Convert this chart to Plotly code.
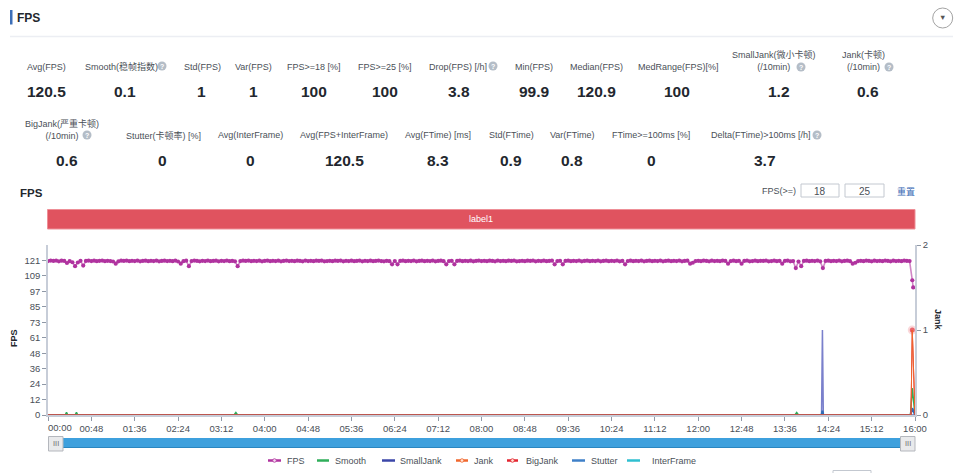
import plotly.graph_objects as go

# ---------- data ----------
TIME_TICK_MINUTES = [0, 48, 96, 144, 192, 240, 288, 336, 384, 432, 480, 528, 576, 624, 672, 720, 768, 816, 864, 912, 960]
TIME_TICK_LABELS = ["00:00", "00:48", "01:36", "02:24", "03:12", "04:00", "04:48", "05:36", "06:24", "07:12", "08:00",
                    "08:48", "09:36", "10:24", "11:12", "12:00", "12:48", "13:36", "14:24", "15:12", "16:00"]
FPS_TICK_VALUES = [0, 12.1, 24.2, 36.3, 48.4, 60.5, 72.6, 84.7, 96.8, 108.9, 121]
FPS_TICK_LABELS = ["0", "12", "24", "36", "48", "61", "73", "85", "97", "109", "121"]
JANK_TICK_VALUES = [0, 1, 2]

FPS_MINUTES = list(range(0, 958, 3)) + [958]
FPS_VALUES = [
    120.5, 120.9, 120.6, 120.9, 120.3, 120.8, 120.6, 119.0, 120.4, 119.6, 116.5, 119.4, 120.7, 117.0, 120.6, 120.9, 120.5, 120.8, 120.4, 120.7,
    120.9, 120.4, 120.7, 120.5, 120.2, 118.5, 120.3, 120.8, 120.6, 120.9, 120.4, 120.7, 120.5, 120.9, 120.3, 120.6, 120.8, 120.4, 120.7, 120.5,
    120.9, 120.3, 120.6, 120.8, 120.5, 120.7, 120.4, 120.9, 120.2, 118.5, 120.4, 120.8, 116.5, 120.5, 120.9, 120.6, 120.3, 120.7, 120.5, 120.9,
    120.4, 120.6, 120.8, 120.3, 120.7, 120.5, 120.9, 120.4, 120.6, 120.3, 116.5, 120.5, 120.8, 120.6, 120.9, 120.4, 120.7, 120.5, 120.8, 120.3,
    120.6, 120.9, 120.4, 120.7, 120.5, 120.8, 120.3, 120.6, 120.9, 120.5, 120.7, 120.4, 120.8, 120.6, 120.3, 120.9, 120.5, 120.7, 120.4, 120.8,
    120.6, 120.9, 120.3, 120.5, 120.7, 120.4, 120.8, 120.6, 120.9, 120.3, 120.7, 120.5, 120.8, 120.4, 120.6, 120.9, 120.3, 120.7, 120.5, 120.8,
    120.4, 120.6, 120.9, 120.5, 120.3, 120.7, 120.4, 118.0, 120.5, 118.0, 120.6, 120.8, 120.4, 120.7, 120.5, 120.9, 120.3, 120.6, 120.8, 120.4,
    120.7, 120.5, 120.9, 120.3, 120.6, 120.8, 120.4, 118.0, 120.5, 120.7, 118.0, 120.6, 120.9, 120.4, 120.7, 120.5, 120.8, 120.3, 120.6, 120.9,
    120.5, 120.7, 120.4, 120.8, 120.6, 120.3, 120.9, 120.5, 120.7, 120.4, 120.8, 120.6, 120.9, 120.3, 120.5, 120.7, 120.4, 120.8, 120.6, 120.9,
    120.3, 120.7, 120.5, 120.8, 120.4, 120.6, 120.9, 118.0, 120.5, 120.7, 118.0, 120.6, 120.8, 120.4, 120.7, 120.5, 120.9, 120.3, 120.6, 120.8,
    120.4, 120.7, 120.5, 120.9, 120.3, 120.6, 120.8, 120.4, 120.7, 120.5, 120.9, 120.3, 120.6, 118.0, 120.5, 120.8, 120.4, 120.7, 120.5, 120.9,
    120.3, 120.6, 120.8, 120.4, 120.7, 120.5, 120.9, 120.3, 120.6, 120.8, 120.4, 120.7, 120.5, 120.9, 120.3, 120.6, 120.8, 118.5, 119.2, 120.5,
    120.7, 120.4, 120.9, 120.6, 120.3, 120.8, 120.5, 120.7, 120.4, 120.9, 120.6, 118.5, 120.5, 120.8, 120.4, 120.7, 118.5, 120.6, 120.9, 120.3,
    120.5, 120.8, 120.4, 120.7, 120.6, 120.9, 120.3, 120.5, 120.8, 120.4, 120.7, 118.5, 120.6, 120.9, 120.3, 120.5, 115.0, 120.2, 116.5, 120.6,
    120.8, 120.4, 120.7, 120.5, 120.9, 120.3, 115.0, 120.6, 120.8, 120.4, 120.7, 120.5, 120.9, 120.3, 120.6, 120.8, 120.4, 118.5, 119.2, 120.5,
    120.7, 120.4, 120.9, 120.6, 120.3, 120.8, 120.5, 120.7, 120.4, 120.9, 120.6, 120.3, 120.8, 120.5, 120.7, 120.4, 120.9, 120.6, 120.5, 105.5,
    99.9,
]

SMOOTH_MINUTES = [0, 19, 20.5, 22, 30, 31.5, 33, 206, 208, 210, 827, 829, 831, 955, 957, 960]
SMOOTH_VALUES = [0, 0, 2, 0, 0, 2, 0, 0, 2, 0, 0, 2, 0, 0, 21, 0]

SMALLJANK_MINUTES = [0, 856.5, 857.5, 858.5, 960]
SMALLJANK_VALUES = [0, 0, 1, 0, 0]

JANK_MINUTES = [0, 955.5, 957, 960]
JANK_VALUES = [0, 0, 1, 0]

BIGJANK_MINUTES = [0, 955.5, 957, 960]
BIGJANK_VALUES = [0, 0, 1, 0]

STUTTER_MINUTES = [0, 856.5, 857.5, 858.5, 955, 957, 960]
STUTTER_VALUES = [0, 0, 0.05, 0, 0, 0.08, 0]

INTERFRAME_MINUTES = [0, 960]
INTERFRAME_VALUES = [0, 0]

SERIES_NAMES = ["FPS", "Smooth", "SmallJank", "Jank", "BigJank", "Stutter", "InterFrame"]

KPI_ROW1_LABELS = ["Avg(FPS)", "Smooth(稳帧指数)", "Std(FPS)", "Var(FPS)", "FPS>=18 [%]", "FPS>=25 [%]", "Drop(FPS) [/h]",
                   "Min(FPS)", "Median(FPS)", "MedRange(FPS)[%]", "SmallJank(微小卡顿)<br>(/10min)", "Jank(卡顿)<br>(/10min)"]
KPI_ROW1_VALUES = ["120.5", "0.1", "1", "1", "100", "100", "3.8", "99.9", "120.9", "100", "1.2", "0.6"]
KPI_ROW2_LABELS = ["BigJank(严重卡顿)<br>(/10min)", "Stutter(卡顿率) [%]", "Avg(InterFrame)", "Avg(FPS+InterFrame)", "Avg(FTime) [ms]",
                   "Std(FTime)", "Var(FTime)", "FTime>=100ms [%]", "Delta(FTime)>100ms [/h]"]
KPI_ROW2_VALUES = ["0.6", "0", "0", "120.5", "8.3", "0.9", "0.8", "0", "3.7"]

# ---------- layout constants ----------
W, H = 960, 473
L, R, T, B = 48, 915, 245, 415
def px(x): return (x - L) / (R - L)
def py(y): return (B - y) / (B - T)

FONT = "Liberation Sans, Arial, Noto Sans CJK SC, sans-serif"
TXT = "#4a4f57"
DARK = "#23272e"
AXIS = "#c7cdd8"
SERIES_COLORS = ["#b0339f", "#2fae5a", "#3b46a8", "#f0672d", "#e3242f", "#3f80c8", "#2fbfd0"]

KPI_ROW1_LABEL_X = [46, 121, 202, 253, 314, 385, 458, 534, 596, 678, 774, 863]
KPI_ROW1_VALUE_X = [46, 125, 201, 253, 314, 385, 459, 534, 596, 677, 779, 868]
KPI_ROW2_LABEL_X = [62, 163, 250, 344, 438, 511, 572, 651, 760]
KPI_ROW2_VALUE_X = [67, 162, 250, 344, 438, 511, 572, 651, 765]
HELP_ICONS = [(162, 66), (493, 66), (801, 67), (889, 67), (87, 135), (817, 135)]

annotations, shapes = [], []

def text(x, y, s, size=9, color=TXT, bold=False, angle=0, anchor="center"):
    annotations.append(dict(x=px(x), y=py(y), xref="paper", yref="paper", text=f"<b>{s}</b>" if bold else s,
                            showarrow=False, xanchor=anchor, yanchor="middle", textangle=angle,
                            font=dict(family=FONT, size=size, color=color), align="center",
                            borderpad=0, borderwidth=0))

def rect(x0, y0, x1, y1, fill="rgba(0,0,0,0)", line="rgba(0,0,0,0)", lw=1, layer="above"):
    shapes.append(dict(type="rect", xref="paper", yref="paper", x0=px(x0), x1=px(x1), y0=py(y0), y1=py(y1),
                       fillcolor=fill, line=dict(color=line, width=lw), layer=layer))

def hline(x0, x1, y, color, lw=1):
    shapes.append(dict(type="line", xref="paper", yref="paper", x0=px(x0), x1=px(x1), y0=py(y), y1=py(y),
                       line=dict(color=color, width=lw)))

def circle(cx, cy, r, fill, line="rgba(0,0,0,0)", lw=1):
    shapes.append(dict(type="circle", xref="paper", yref="paper", x0=px(cx - r), x1=px(cx + r), y0=py(cy - r), y1=py(cy + r),
                       fillcolor=fill, line=dict(color=line, width=lw)))

# page header
rect(10, 10, 12.5, 24.5, fill="#3d6fb8")
text(17, 18, "FPS", size=12, color=DARK, bold=True, anchor="left")
hline(10, 953, 36.5, "#eceef3", 1.5)
circle(942.7, 18, 10, "#ffffff", "#a3a3a3", 1)
text(942.7, 18, "▼", size=7.5, color="#555555")

# KPI rows
for lbl, x in zip(KPI_ROW1_LABELS, KPI_ROW1_LABEL_X):
    text(x, 60.5 if "<br>" in lbl else 66.5, lbl, size=9)
for val, x in zip(KPI_ROW1_VALUES, KPI_ROW1_VALUE_X):
    text(x, 91.5, val, size=15.5, color=DARK, bold=True)
for lbl, x in zip(KPI_ROW2_LABELS, KPI_ROW2_LABEL_X):
    text(x, 129.5 if "<br>" in lbl else 135, lbl, size=9)
for val, x in zip(KPI_ROW2_VALUES, KPI_ROW2_VALUE_X):
    text(x, 160.5, val, size=15.5, color=DARK, bold=True)
for cx, cy in HELP_ICONS:
    circle(cx, cy, 4.5, "#b4bdc7")
    text(cx, cy, "?", size=7, color="#ffffff", bold=True)

# chart header
text(20, 192.5, "FPS", size=11.5, color=DARK, bold=True, anchor="left")
text(778.5, 191, "FPS(>=)", size=9)
rect(801, 184, 839, 197, fill="#ffffff", line="#c3c8d0")
rect(845, 184, 884, 197, fill="#ffffff", line="#c3c8d0")
text(820, 191, "18", size=10, color=TXT)
text(864.5, 191, "25", size=10, color=TXT)
text(905.5, 191, "重置", size=9, color="#3a6bb5")

# label band
rect(47.5, 209.5, 915, 229, fill="#e0535f", line="#ee8f97")
text(481, 219, "label1", size=9, color="#ffffff")

# axis titles
text(14, 338, "FPS", size=9, color=DARK, bold=True, angle=-90)
text(938, 320, "Jank", size=9, color=DARK, bold=True, angle=90)

# first time label sits to the right of its tick, inside the plot width
text(59.5, 427.5, TIME_TICK_LABELS[0], size=9.5)

# slider
rect(50, 438, 913, 448, fill="#3ea0dd")
hline(50, 913, 447.5, "#2a86c0", 1)
for x0, x1 in [(48.5, 63), (900.5, 915)]:
    shapes.append(dict(type="rect", xref="paper", yref="paper", x0=px(x0), x1=px(x1), y0=py(436.5), y1=py(451),
                       fillcolor="#e9eaec", line=dict(color="#b4b7bd", width=1)))
    text((x0 + x1) / 2, 443.5, "III", size=7.5, color="#6f6f6f")

# manual legend, spaced as in the reference
LEGEND_SYMBOL_X = [(268, 281), (317, 329), (382, 395), (456, 468), (507, 518), (572, 585), (627, 640)]
LEGEND_TEXT_X = [287, 335, 400, 474, 526, 591, 652]
LEGEND_MARKED = [True, False, False, True, True, False, False]
for name, color, (a, b), tx, marked in zip(SERIES_NAMES, SERIES_COLORS, LEGEND_SYMBOL_X, LEGEND_TEXT_X, LEGEND_MARKED):
    hline(a, b, 460.5, color, 2.5)
    if marked:
        circle((a + b) / 2, 460.5, 1.8, "#f3d9ee" if name == "FPS" else "#ffe3d6", color, 0.8)
    text(tx, 460.5, name, size=9, anchor="left")

# cut-off box at the bottom of the page
rect(833, 470.5, 871, 490, fill="#ffffff", line="#c3c8d0")

# ---------- figure ----------
fig = go.Figure()

fig.add_trace(go.Scatter(x=FPS_MINUTES, y=FPS_VALUES, name=SERIES_NAMES[0], yaxis="y", mode="lines+markers",
                         line=dict(color="rgba(176,51,159,0.6)", width=1.6),
                         marker=dict(color=SERIES_COLORS[0], size=4.2, line=dict(width=0)),
                         showlegend=False))
fig.add_trace(go.Scatter(x=SMOOTH_MINUTES, y=SMOOTH_VALUES, name=SERIES_NAMES[1], yaxis="y", mode="lines",
                         line=dict(color=SERIES_COLORS[1], width=1.5), showlegend=False))
fig.add_trace(go.Scatter(x=SMALLJANK_MINUTES, y=SMALLJANK_VALUES, name=SERIES_NAMES[2], yaxis="y2", mode="lines",
                         line=dict(color="#7a80cc", width=1.5), showlegend=False))
fig.add_trace(go.Scatter(x=INTERFRAME_MINUTES, y=INTERFRAME_VALUES, name=SERIES_NAMES[6], yaxis="y", mode="lines",
                         line=dict(color=SERIES_COLORS[6], width=1), showlegend=False))
fig.add_trace(go.Scatter(x=STUTTER_MINUTES, y=STUTTER_VALUES, name=SERIES_NAMES[5], yaxis="y2", mode="lines",
                         line=dict(color="#2f6db5", width=2), showlegend=False))
fig.add_trace(go.Scatter(x=BIGJANK_MINUTES, y=BIGJANK_VALUES, name=SERIES_NAMES[4], yaxis="y2", mode="lines+markers",
                         line=dict(color=SERIES_COLORS[4], width=1),
                         marker=dict(color=SERIES_COLORS[4], size=[0, 0, 5, 0],
                                     line=dict(color="rgba(227,36,47,0.25)", width=[0, 0, 4, 0])),
                         showlegend=False))
fig.add_trace(go.Scatter(x=JANK_MINUTES, y=JANK_VALUES, name=SERIES_NAMES[3], yaxis="y2", mode="lines",
                         line=dict(color=SERIES_COLORS[3], width=1), showlegend=False))

tickfont = dict(family=FONT, size=9.5, color=TXT)
fig.update_layout(
    width=W, height=H, autosize=False,
    margin=dict(l=L, r=W - R, t=T, b=H - B, pad=0),
    paper_bgcolor="#ffffff", plot_bgcolor="#ffffff",
    showlegend=False, annotations=annotations, shapes=shapes,
    xaxis=dict(range=[0, 960], tickmode="array", tickvals=TIME_TICK_MINUTES, ticktext=[""] + TIME_TICK_LABELS[1:],
               showgrid=False, zeroline=False, showline=True, linecolor=AXIS, linewidth=1.5,
               ticks="outside", ticklen=4, tickcolor="#8f98a6", tickwidth=1, tickfont=tickfont, tickangle=0),
    yaxis=dict(range=[0, 133.1], tickmode="array", tickvals=FPS_TICK_VALUES, ticktext=FPS_TICK_LABELS,
               showgrid=False, zeroline=False, showline=True, linecolor=AXIS, linewidth=1.5,
               ticks="outside", ticklen=4, tickcolor="#8f98a6", tickwidth=1, tickfont=tickfont),
    yaxis2=dict(range=[0, 2], overlaying="y", side="right", tickmode="array", tickvals=JANK_TICK_VALUES,
                showgrid=False, zeroline=False, showline=True, linecolor=AXIS, linewidth=1.5,
                ticks="outside", ticklen=4, tickcolor="#8f98a6", tickwidth=1, tickfont=tickfont),
)

fig.write_html("out.html", config=dict(displayModeBar=False),
               post_script="document.body.style.margin='0';document.body.style.overflow='hidden';")
